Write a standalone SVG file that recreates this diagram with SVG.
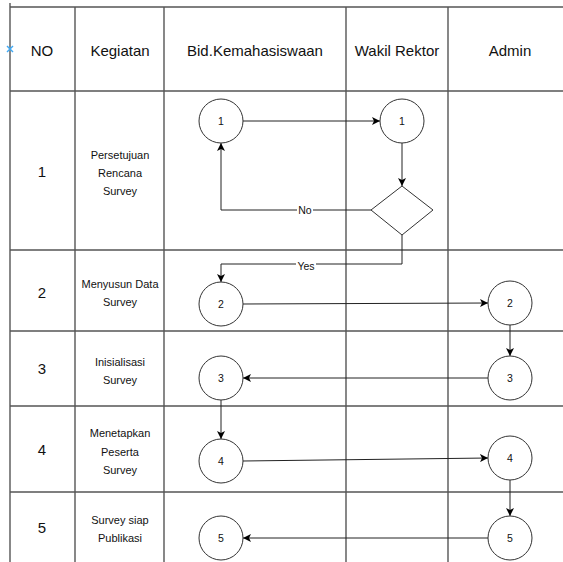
<svg xmlns="http://www.w3.org/2000/svg" width="563" height="562" viewBox="0 0 563 562">
  <defs>
    <marker id="arrow" viewBox="0 0 10 10" refX="10" refY="5" markerWidth="8" markerHeight="8" markerUnits="userSpaceOnUse" orient="auto">
      <path d="M0,0 L10,5 L0,10 L2.5,5 Z" fill="#000"/>
    </marker>
  </defs>
  <style>
    .grid { stroke: #555; stroke-width: 1.4; fill: none; }
    .node { fill: #fff; stroke: #333; stroke-width: 1; }
    .conn { stroke: #222; stroke-width: 1; fill: none; }
    .head { font-family: "Liberation Sans", Arial, sans-serif; font-size: 15px; fill: #111; text-anchor: middle; dominant-baseline: central; }
    .num { font-family: "Liberation Sans", Arial, sans-serif; font-size: 15px; fill: #111; text-anchor: middle; dominant-baseline: central; }
    .small { font-family: "Liberation Sans", Arial, sans-serif; font-size: 11px; fill: #111; text-anchor: middle; dominant-baseline: central; }
    .lbl { font-family: "Liberation Sans", Arial, sans-serif; font-size: 10.5px; fill: #111; text-anchor: middle; dominant-baseline: central; }
  </style>
  <rect width="563" height="562" fill="#fff"/>

  <!-- table grid -->
  <g id="table">
    <line class="grid" x1="10" y1="3" x2="10" y2="562"/>
    <line class="grid" x1="75" y1="7" x2="75" y2="562"/>
    <line class="grid" x1="164" y1="7" x2="164" y2="562"/>
    <line class="grid" x1="346" y1="7" x2="346" y2="562"/>
    <line class="grid" x1="448" y1="7" x2="448" y2="562"/>
    <line class="grid" x1="10" y1="7" x2="563" y2="7"/>
    <line class="grid" x1="10" y1="91" x2="563" y2="91"/>
    <line class="grid" x1="10" y1="250" x2="563" y2="250"/>
    <line class="grid" x1="10" y1="331" x2="563" y2="331"/>
    <line class="grid" x1="10" y1="406" x2="563" y2="406"/>
    <line class="grid" x1="10" y1="492" x2="563" y2="492"/>
  </g>

  <!-- connection point marker -->
  <g id="point-marker" stroke="#3fa9f5" stroke-width="1.4">
    <line x1="7" y1="46" x2="13" y2="52"/>
    <line x1="13" y1="46" x2="7" y2="52"/>
  </g>

  <!-- header row -->
  <g id="header">
    <text class="head" x="42" y="50">NO</text>
    <text class="head" x="120" y="50">Kegiatan</text>
    <text class="head" x="255" y="50">Bid.Kemahasiswaan</text>
    <text class="head" x="397" y="50">Wakil Rektor</text>
    <text class="head" x="510" y="50">Admin</text>
  </g>

  <!-- row numbers and activities -->
  <g id="rows">
    <text class="num" x="42" y="171">1</text>
    <text class="small" x="120" y="155">Persetujuan</text>
    <text class="small" x="120" y="173">Rencana</text>
    <text class="small" x="120" y="191">Survey</text>

    <text class="num" x="42" y="292">2</text>
    <text class="small" x="120" y="284">Menyusun Data</text>
    <text class="small" x="120" y="302">Survey</text>

    <text class="num" x="42" y="368">3</text>
    <text class="small" x="120" y="362">Inisialisasi</text>
    <text class="small" x="120" y="380">Survey</text>

    <text class="num" x="42" y="449">4</text>
    <text class="small" x="120" y="433">Menetapkan</text>
    <text class="small" x="120" y="452">Peserta</text>
    <text class="small" x="120" y="470">Survey</text>

    <text class="num" x="42" y="527">5</text>
    <text class="small" x="120" y="520">Survey siap</text>
    <text class="small" x="120" y="538">Publikasi</text>
  </g>

  <!-- connectors -->
  <g id="connectors">
    <line class="conn" x1="243" y1="121" x2="380" y2="121" marker-end="url(#arrow)"/>
    <line class="conn" x1="402" y1="143" x2="402" y2="186" marker-end="url(#arrow)"/>
    <polyline class="conn" points="371,210 221,210 221,143" marker-end="url(#arrow)"/>
    <polyline class="conn" points="402,235 402,264 221,264 221,282" marker-end="url(#arrow)"/>
    <line class="conn" x1="243" y1="304" x2="488" y2="303" marker-end="url(#arrow)"/>
    <line class="conn" x1="510" y1="325" x2="510" y2="356" marker-end="url(#arrow)"/>
    <line class="conn" x1="488" y1="378" x2="243" y2="378" marker-end="url(#arrow)"/>
    <line class="conn" x1="221" y1="400" x2="221" y2="439" marker-end="url(#arrow)"/>
    <line class="conn" x1="243" y1="461" x2="488" y2="458" marker-end="url(#arrow)"/>
    <line class="conn" x1="510" y1="480" x2="510" y2="516" marker-end="url(#arrow)"/>
    <line class="conn" x1="488" y1="538" x2="243" y2="538" marker-end="url(#arrow)"/>
    <g id="label-no">
      <rect x="297" y="204" width="16" height="12" fill="#fff"/>
      <text class="lbl" x="305" y="210">No</text>
    </g>
    <g id="label-yes">
      <rect x="296" y="260" width="20" height="12" fill="#fff"/>
      <text class="lbl" x="306" y="266">Yes</text>
    </g>
  </g>

  <!-- process nodes -->
  <g id="bid-1"><circle class="node" cx="221" cy="121" r="22"/><text class="lbl" x="221" y="121">1</text></g>
  <g id="wr-1"><circle class="node" cx="402" cy="121" r="22"/><text class="lbl" x="402" y="121">1</text></g>
  <g id="wr-decision"><polygon class="node" points="402,186 433,210 402,235 371,210"/></g>
  <g id="bid-2"><circle class="node" cx="221" cy="304" r="22"/><text class="lbl" x="221" y="304">2</text></g>
  <g id="admin-2"><circle class="node" cx="510" cy="303" r="22"/><text class="lbl" x="510" y="303">2</text></g>
  <g id="admin-3"><circle class="node" cx="510" cy="378" r="22"/><text class="lbl" x="510" y="378">3</text></g>
  <g id="bid-3"><circle class="node" cx="221" cy="378" r="22"/><text class="lbl" x="221" y="378">3</text></g>
  <g id="bid-4"><circle class="node" cx="221" cy="461" r="22"/><text class="lbl" x="221" y="461">4</text></g>
  <g id="admin-4"><circle class="node" cx="510" cy="458" r="22"/><text class="lbl" x="510" y="458">4</text></g>
  <g id="admin-5"><circle class="node" cx="510" cy="538" r="22"/><text class="lbl" x="510" y="538">5</text></g>
  <g id="bid-5"><circle class="node" cx="221" cy="538" r="22"/><text class="lbl" x="221" y="538">5</text></g>
</svg>
